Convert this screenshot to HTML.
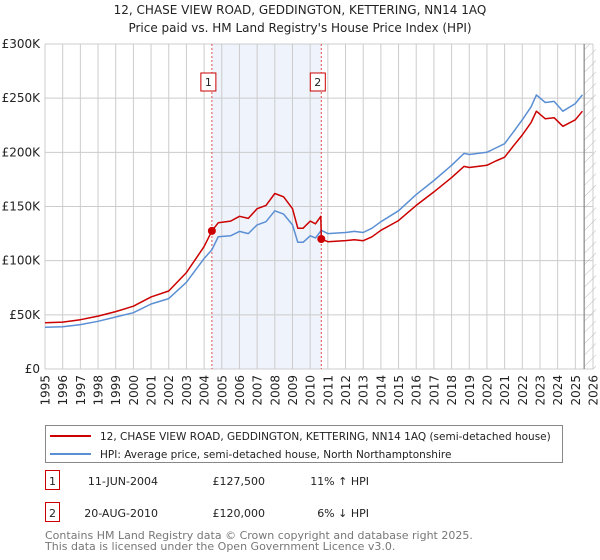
<!DOCTYPE html>
<html><head><meta charset="utf-8"><style>
body{margin:0;background:#fff;font-family:"DejaVu Sans","Liberation Sans",sans-serif;}
#wrap{position:relative;width:600px;height:560px;overflow:hidden;}
</style></head><body><div id="wrap">
<svg id="svg" width="600" height="560" xmlns="http://www.w3.org/2000/svg" font-family="DejaVu Sans, Liberation Sans, sans-serif"></svg>
</div>
<script>
const years=[1995,1996,1997,1998,1999,2000,2001,2002,2003,2004,2005,2006,2007,2008,2009,2010,2011,2012,2013,2014,2015,2016,2017,2018,2019,2020,2021,2022,2023,2024,2025,2026];
const yTicks=[0,50,100,150,200,250,300];
const yTickLabels=["£0","£50K","£100K","£150K","£200K","£250K","£300K"];
const hpiT=[1995,1996,1997,1998,1999,2000,2001,2002,2003,2004,2004.44,2004.8,2005.5,2006,2006.5,2007,2007.5,2008,2008.5,2009,2009.3,2009.6,2010,2010.3,2010.63,2011,2012,2012.5,2013,2013.5,2014,2015,2016,2017,2018,2018.7,2019,2020,2020.5,2021,2021.5,2022,2022.5,2022.8,2023.3,2023.8,2024.3,2025,2025.4];
const hpiV=[38.5,39,41,44,48,52,60,65,80,102,110,122,123,127,125,133,136,146,143,133,117,117,123,121,128,125,126,127,126,130,136,146,161,174,188,199,198,200,204,208,219,230,242,253,246,247,238,245,253];
const redT=[1995,1996,1997,1998,1999,2000,2001,2002,2003,2004,2004.44,2004.8,2005.5,2006,2006.5,2007,2007.5,2008,2008.5,2009,2009.3,2009.6,2010,2010.3,2010.6,2010.63,2011,2012,2012.5,2013,2013.5,2014,2015,2016,2017,2018,2018.7,2019,2020,2020.5,2021,2021.5,2022,2022.5,2022.8,2023.3,2023.8,2024.3,2025,2025.4];
const redV=[42.7,43.3,45.5,48.8,53,58,66.6,72,89,113,127.5,135,136.5,141,139,148,151,162,159,148,130,130,136.5,134,141,120,117.5,118.5,119.4,118.4,122,128,137,151,163.5,176.7,187,186,188,192,195.5,206,216,227.5,238,231,232,224,230,238];
const saleT=[2004.44,2010.63];
const saleV=[127.5,120];
const saleLabels=["1","2"];

const NS="http://www.w3.org/2000/svg",svg=document.getElementById('svg');
const X0=45,X1=593,Y0=369,Y1=44;
const xs=t=>X0+(t-1995)*(X1-X0)/31;
const ys=v=>Y0-v*(Y0-Y1)/300;
function el(tag,at,parent){const e=document.createElementNS(NS,tag);for(const k in at)e.setAttribute(k,at[k]);(parent||svg).appendChild(e);return e;}
function txt(s,at){const e=el('text',at);e.textContent=s;return e;}

let t=txt("12, CHASE VIEW ROAD, GEDDINGTON, KETTERING, NN14 1AQ",{x:300,y:14,'text-anchor':'middle','font-size':12,fill:'#222'});

t=txt("Price paid vs. HM Land Registry's House Price Index (HPI)",{x:300,y:32,'text-anchor':'middle','font-size':12,fill:'#222'});


let sh=el('rect',{x:xs(saleT[0]),y:Y1,width:xs(saleT[1])-xs(saleT[0]),height:Y0-Y1,fill:'#eef3fc'});


years.forEach(y=>{const g=el('line',{x1:xs(y),x2:xs(y),y1:Y1,y2:Y0,stroke:'#cccccc','stroke-width':1});

const l=txt(String(y),{x:0,y:0,'font-size':12,fill:'#222','text-anchor':'end',transform:`translate(${xs(y)+4.5},${Y0+6}) rotate(-90)`});
});
yTicks.forEach((v,i)=>{const g=el('line',{x1:X0,x2:X1,y1:ys(v),y2:ys(v),stroke:'#cccccc','stroke-width':1});

const l=txt(yTickLabels[i],{x:X0-5,y:ys(v)+4,'font-size':12,fill:'#222','text-anchor':'end'});
});

const defs=el('defs',{});const pat=el('pattern',{id:'hatch',width:8,height:8,patternUnits:'userSpaceOnUse',patternTransform:'rotate(45)'},defs);
el('line',{x1:0,y1:0,x2:0,y2:8,stroke:'#bbbbbb','stroke-width':1},pat);
const hs=xs(2025.5);
let h=el('rect',{x:hs,y:Y1,width:X1-hs+3,height:Y0-Y1,fill:'url(#hatch)'});

h=el('line',{x1:hs,x2:hs,y1:Y1,y2:Y0,stroke:'#888','stroke-width':1.2});


saleT.forEach((s,i)=>{const d=el('line',{x1:xs(s),x2:xs(s),y1:Y1,y2:Y0,stroke:'#e05050','stroke-width':1,'stroke-dasharray':'2,2'});

const b=el('rect',{x:xs(s)-11,y:73,width:15,height:18,fill:'#fff',stroke:'#cc0000','stroke-width':1});

const l=txt(saleLabels[i],{x:xs(s)-3.5,y:86,'font-size':11,'text-anchor':'middle',fill:'#222'});
});

function path(T,V){return T.map((tt,i)=>(i?'L':'M')+xs(tt).toFixed(1)+','+ys(V[i]).toFixed(1)).join('');}
let p=el('path',{d:path(hpiT,hpiV),fill:'none',stroke:'#5b8fd4','stroke-width':1.5,'stroke-linejoin':'round'});

p=el('path',{d:path(redT,redV),fill:'none',stroke:'#cc0000','stroke-width':1.5,'stroke-linejoin':'round'});

saleT.forEach((s,i)=>{const c=el('circle',{cx:xs(s),cy:ys(saleV[i]),r:4,fill:'#cc0000'});
});

let lg=el('rect',{x:45.5,y:425.5,width:517,height:37,fill:'#fff',stroke:'#888','stroke-width':1});

let ll=el('line',{x1:50,x2:91,y1:436,y2:436,stroke:'#cc0000','stroke-width':2});
ll=el('line',{x1:50,x2:91,y1:454,y2:454,stroke:'#5b8fd4','stroke-width':2});
t=txt("12, CHASE VIEW ROAD, GEDDINGTON, KETTERING, NN14 1AQ (semi-detached house)",{x:100,y:440,'font-size':10.5,fill:'#222'});
t=txt("HPI: Average price, semi-detached house, North Northamptonshire",{x:100,y:458,'font-size':10.5,fill:'#222'});

const rows=[["1","11-JUN-2004","£127,500","11% ↑ HPI",483],["2","20-AUG-2010","£120,000","6% ↓ HPI",515]];
rows.forEach(r=>{const b=el('rect',{x:45.5,y:r[4]-12.5,width:14,height:19,fill:'#fff',stroke:'#cc0000','stroke-width':1});

let a=txt(r[0],{x:52.5,y:r[4]+2,'font-size':11,'text-anchor':'middle',fill:'#222'});
a=txt(r[1],{x:158,y:r[4]+2,'font-size':11,'text-anchor':'end',fill:'#222'});
a=txt(r[2],{x:265,y:r[4]+2,'font-size':11,'text-anchor':'end',fill:'#222'});
a=txt(r[3],{x:369,y:r[4]+2,'font-size':11,'text-anchor':'end',fill:'#222'});});
t=txt("Contains HM Land Registry data © Crown copyright and database right 2025.",{x:45,y:539,'font-size':11,fill:'#777'});
t=txt("This data is licensed under the Open Government Licence v3.0.",{x:45,y:550,'font-size':11,fill:'#777'});
</script></body></html>
